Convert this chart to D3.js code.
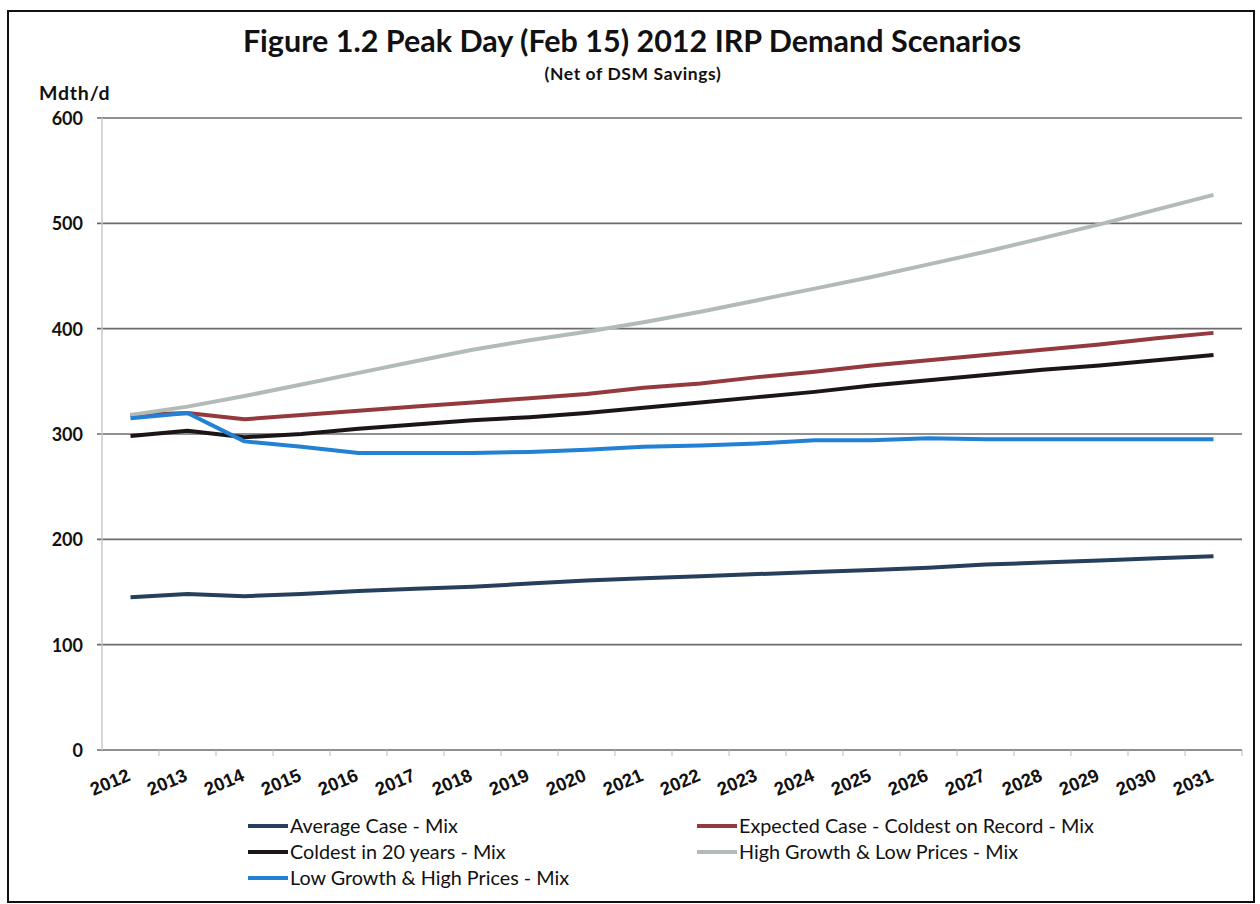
<!DOCTYPE html>
<html>
<head>
<meta charset="utf-8">
<script src="https://cdn.jsdelivr.net/npm/d3@7"></script>
<style>
  body { margin: 0; background: #fff; }
  svg { display: block; font-family: Lato, "Open Sans", sans-serif; }
</style>
</head>
<body>
<svg id="container" width="1260" height="904"></svg>
<script>
const years = ["2012","2013","2014","2015","2016","2017","2018","2019","2020","2021",
  "2022","2023","2024","2025","2026","2027","2028","2029","2030","2031"];
const yTicks = [0, 100, 200, 300, 400, 500, 600];

const averageCase = [145,148,146,148,151,153,155,158,161,163,165,167,169,171,173,176,178,180,182,184];
const expectedCase = [318,320,314,318,322,326,330,334,338,344,348,354,359,365,370,375,380,385,391,396];
const coldest20 = [298,303,297,300,305,309,313,316,320,325,330,335,340,346,351,356,361,365,370,375];
const highGrowth = [318,326,336,347,358,369,380,389,397,406,416,427,438,449,461,473,486,499,513,527];
const lowGrowth = [315,320,293,288,282,282,282,283,285,288,289,291,294,294,296,295,295,295,295,295];

const series = [
  { name: "Average Case - Mix", values: averageCase, color: "#253f5c" },
  { name: "Expected Case - Coldest on Record - Mix", values: expectedCase, color: "#943a3f" },
  { name: "Coldest in 20 years - Mix", values: coldest20, color: "#1b1516" },
  { name: "High Growth & Low Prices - Mix", values: highGrowth, color: "#b3bbb9" },
  { name: "Low Growth & High Prices - Mix", values: lowGrowth, color: "#2381d3" }
];

const margin = { top: 118, right: 18, bottom: 154, left: 102 };
const width = 1260, height = 904;

const svg = d3.select("#container");

// frame
svg.append("rect")
  .attr("x", 8).attr("y", 11)
  .attr("width", 1246).attr("height", 891)
  .attr("fill", "none").attr("stroke", "#111").attr("stroke-width", 2);

const x = d3.scaleBand()
  .domain(years)
  .range([margin.left, width - margin.right]);
const y = d3.scaleLinear()
  .domain([0, 600])
  .range([height - margin.bottom, margin.top]);

// gridlines
svg.append("g")
  .selectAll("line")
  .data(yTicks)
  .join("line")
  .attr("x1", margin.left - 5)
  .attr("x2", width - margin.right)
  .attr("y1", d => y(d))
  .attr("y2", d => y(d))
  .attr("stroke", "#6b6b6b")
  .attr("stroke-width", 1.6);

// y axis line
svg.append("line")
  .attr("x1", margin.left).attr("x2", margin.left)
  .attr("y1", y(600)).attr("y2", y(0))
  .attr("stroke", "#c8c8c8").attr("stroke-width", 1.5);

// y tick labels
svg.append("g")
  .selectAll("text")
  .data(yTicks)
  .join("text")
  .attr("x", 83)
  .attr("y", d => y(d) + 7)
  .attr("text-anchor", "end")
  .attr("font-size", 18)
  .attr("font-weight", "bold")
  .attr("fill", "#111")
  .text(d => d);

// x axis ticks
const xAxis = svg.append("g")
  .attr("transform", `translate(0,${y(0)})`)
  .call(d3.axisBottom(x).tickSize(0).tickSizeOuter(0));
xAxis.select(".domain").remove();
xAxis.selectAll(".tick text").remove();
svg.append("g")
  .selectAll("line")
  .data(years)
  .join("line")
  .attr("x1", d => x(d) + x.bandwidth())
  .attr("x2", d => x(d) + x.bandwidth())
  .attr("y1", y(0))
  .attr("y2", y(0) + 6)
  .attr("stroke", "#bbb");
xAxis.selectAll(".tick")
  .append("text")
  .attr("transform", "translate(-18,38) rotate(-23)")
  .attr("text-anchor", "middle")
  .attr("font-size", 18.5)
  .attr("font-weight", "bold")
  .attr("fill", "#111")
  .text(d => d);

// lines
const line = d3.line()
  .x((d, i) => x(years[i]) + x.bandwidth() / 2)
  .y(d => y(d));

svg.append("g")
  .selectAll("path")
  .data(series)
  .join("path")
  .attr("d", d => line(d.values))
  .attr("fill", "none")
  .attr("stroke", d => d.color)
  .attr("stroke-width", 4)
  .attr("stroke-linejoin", "round");

// titles
svg.append("text")
  .attr("x", 632).attr("y", 52)
  .attr("text-anchor", "middle")
  .attr("font-size", 30.5)
  .attr("font-weight", "bold")
  .attr("fill", "#111")
  .text("Figure 1.2 Peak Day (Feb 15) 2012 IRP Demand Scenarios");
svg.append("text")
  .attr("x", 633).attr("y", 80)
  .attr("text-anchor", "middle")
  .attr("font-size", 17.5)
  .attr("letter-spacing", 0.6)
  .attr("font-weight", "bold")
  .attr("fill", "#111")
  .text("(Net of DSM Savings)");
svg.append("text")
  .attr("x", 39).attr("y", 100)
  .attr("font-size", 19.5)
  .attr("letter-spacing", 0.8)
  .attr("font-weight", "bold")
  .attr("fill", "#111")
  .text("Mdth/d");

// legend
const legendPos = [
  { x: 248, y: 826 }, { x: 697, y: 826 },
  { x: 248, y: 852 }, { x: 697, y: 852 },
  { x: 248, y: 878 }
];
const legend = svg.append("g")
  .selectAll("g")
  .data(series)
  .join("g")
  .attr("transform", (d, i) => `translate(${legendPos[i].x},${legendPos[i].y})`);
legend.append("line")
  .attr("x1", 0).attr("x2", 40)
  .attr("stroke", d => d.color)
  .attr("stroke-width", 4);
legend.append("text")
  .attr("x", 42).attr("y", 6.5)
  .attr("font-size", 19.8)
  .attr("fill", "#111")
  .text(d => d.name);
</script>
</body>
</html>
